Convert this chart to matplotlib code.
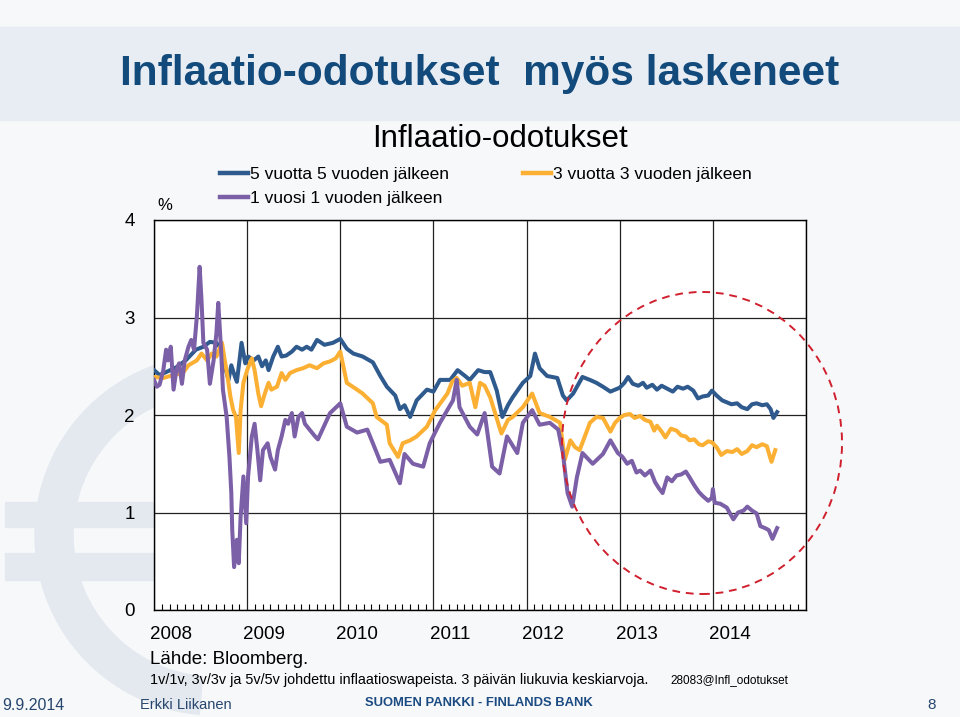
import numpy as np
import matplotlib
matplotlib.use('Agg')
import matplotlib.pyplot as plt
from matplotlib.patches import Ellipse, Wedge, Rectangle
from matplotlib.lines import Line2D
from matplotlib.transforms import IdentityTransform, blended_transform_factory
from matplotlib.ticker import MultipleLocator

plt.rcParams['font.family'] = ['Liberation Sans', 'DejaVu Sans']

# 5v/5v
t_5v5v = [2008.00, 2008.06, 2008.13, 2008.24, 2008.34, 2008.45, 2008.53, 2008.60, 2008.67, 2008.73,
          2008.76, 2008.80, 2008.83, 2008.87, 2008.89, 2008.94, 2008.98, 2009.01, 2009.07, 2009.12,
          2009.16, 2009.20, 2009.23, 2009.28, 2009.33, 2009.37, 2009.42, 2009.48, 2009.53, 2009.59,
          2009.64, 2009.69, 2009.75, 2009.83, 2009.92, 2010.00, 2010.07, 2010.14, 2010.24, 2010.35,
          2010.43, 2010.50, 2010.59, 2010.64, 2010.69, 2010.75, 2010.82, 2010.93, 2011.00, 2011.07,
          2011.18, 2011.26, 2011.34, 2011.39, 2011.48, 2011.55, 2011.61, 2011.68, 2011.74, 2011.80,
          2011.85, 2011.96, 2012.04, 2012.09, 2012.14, 2012.22, 2012.33, 2012.39, 2012.43, 2012.50,
          2012.60, 2012.68, 2012.75, 2012.82, 2012.90, 2012.95, 2013.00, 2013.05, 2013.09, 2013.14,
          2013.20, 2013.25, 2013.29, 2013.35, 2013.40, 2013.45, 2013.51, 2013.57, 2013.62, 2013.68,
          2013.73, 2013.79, 2013.84, 2013.89, 2013.95, 2013.99, 2014.04, 2014.10, 2014.15, 2014.20,
          2014.26, 2014.31, 2014.37, 2014.42, 2014.47, 2014.53, 2014.58, 2014.62, 2014.65, 2014.69]
v_5v5v = [2.46, 2.41, 2.44, 2.49, 2.56, 2.67, 2.70, 2.75, 2.74, 2.67,
          2.50, 2.36, 2.51, 2.39, 2.34, 2.74, 2.53, 2.60, 2.56, 2.60,
          2.50, 2.56, 2.46, 2.60, 2.70, 2.60, 2.61, 2.65, 2.70, 2.67,
          2.70, 2.67, 2.77, 2.72, 2.74, 2.78, 2.68, 2.63, 2.60, 2.54,
          2.40, 2.29, 2.20, 2.06, 2.10, 1.98, 2.15, 2.26, 2.24, 2.36,
          2.36, 2.46, 2.40, 2.36, 2.46, 2.44, 2.44, 2.25, 1.98, 2.10,
          2.18, 2.33, 2.40, 2.63, 2.48, 2.40, 2.38, 2.20, 2.15, 2.22,
          2.39, 2.36, 2.33, 2.29, 2.24, 2.26, 2.28, 2.33, 2.39, 2.32,
          2.30, 2.33, 2.28, 2.31, 2.26, 2.30, 2.27, 2.24, 2.29, 2.27,
          2.29, 2.25, 2.17, 2.19, 2.20, 2.25, 2.20, 2.15, 2.13, 2.11,
          2.12, 2.08, 2.06, 2.11, 2.12, 2.10, 2.11, 2.06, 1.97, 2.03]

# 3v/3v
t_3v3v = [2008.00, 2008.10, 2008.21, 2008.31, 2008.37, 2008.46, 2008.51, 2008.57, 2008.62, 2008.67,
          2008.73, 2008.76, 2008.79, 2008.82, 2008.85, 2008.88, 2008.91, 2008.93, 2008.96, 2009.00,
          2009.05, 2009.08, 2009.12, 2009.15, 2009.19, 2009.23, 2009.26, 2009.32, 2009.37, 2009.41,
          2009.46, 2009.53, 2009.60, 2009.67, 2009.75, 2009.82, 2009.89, 2009.95, 2010.00, 2010.07,
          2010.18, 2010.24, 2010.35, 2010.39, 2010.50, 2010.53, 2010.62, 2010.67, 2010.75, 2010.82,
          2010.93, 2011.02, 2011.15, 2011.20, 2011.25, 2011.31, 2011.39, 2011.45, 2011.50, 2011.55,
          2011.61, 2011.73, 2011.80, 2011.85, 2011.96, 2012.06, 2012.14, 2012.25, 2012.36, 2012.41,
          2012.47, 2012.52, 2012.57, 2012.68, 2012.75, 2012.82, 2012.90, 2012.95, 2013.00, 2013.05,
          2013.11, 2013.16, 2013.22, 2013.27, 2013.33, 2013.37, 2013.40, 2013.45, 2013.49, 2013.55,
          2013.61, 2013.66, 2013.71, 2013.75, 2013.80, 2013.85, 2013.89, 2013.95, 2013.99, 2014.04,
          2014.09, 2014.15, 2014.21, 2014.26, 2014.31, 2014.37, 2014.42, 2014.47, 2014.53, 2014.58,
          2014.61, 2014.63, 2014.67]
v_3v3v = [2.39, 2.38, 2.41, 2.43, 2.51, 2.56, 2.63, 2.56, 2.63, 2.60,
          2.74, 2.56, 2.39, 2.19, 2.05, 1.98, 1.61, 2.05, 2.33, 2.46,
          2.58, 2.46, 2.22, 2.09, 2.22, 2.33, 2.26, 2.29, 2.43, 2.36,
          2.43, 2.46, 2.48, 2.51, 2.48, 2.53, 2.55, 2.58, 2.65, 2.33,
          2.26, 2.22, 2.12, 1.98, 1.90, 1.71, 1.57, 1.71, 1.74, 1.78,
          1.88, 2.05, 2.22, 2.34, 2.38, 2.30, 2.33, 2.08, 2.33, 2.30,
          2.18, 1.81, 1.95, 1.98, 2.08, 2.22, 2.02, 1.98, 1.92, 1.54,
          1.74, 1.67, 1.64, 1.92, 1.98, 1.97, 1.83, 1.92, 1.97, 2.00,
          2.01, 1.97, 1.99, 1.95, 1.93, 1.84, 1.89, 1.83, 1.77, 1.86,
          1.84, 1.79, 1.78, 1.74, 1.75, 1.70, 1.69, 1.73, 1.72, 1.67,
          1.59, 1.63, 1.62, 1.65, 1.60, 1.63, 1.69, 1.67, 1.70, 1.68,
          1.58, 1.52, 1.64]

# 1v/1v
t_1v1v = [2008.00, 2008.03, 2008.06, 2008.10, 2008.13, 2008.15, 2008.18, 2008.21, 2008.24, 2008.27,
          2008.30, 2008.33, 2008.37, 2008.40, 2008.43, 2008.46, 2008.49, 2008.51, 2008.53, 2008.57,
          2008.60, 2008.64, 2008.67, 2008.69, 2008.72, 2008.74, 2008.78, 2008.81, 2008.83, 2008.84,
          2008.86, 2008.89, 2008.91, 2008.93, 2008.96, 2008.99, 2009.01, 2009.05, 2009.08, 2009.11,
          2009.14, 2009.17, 2009.22, 2009.25, 2009.30, 2009.33, 2009.37, 2009.41, 2009.44, 2009.48,
          2009.51, 2009.55, 2009.59, 2009.62, 2009.67, 2009.73, 2009.76, 2009.89, 2010.00, 2010.07,
          2010.18, 2010.29, 2010.35, 2010.43, 2010.53, 2010.64, 2010.69, 2010.78, 2010.89, 2010.96,
          2011.07, 2011.21, 2011.25, 2011.28, 2011.39, 2011.47, 2011.55, 2011.63, 2011.71, 2011.79,
          2011.90, 2011.96, 2012.06, 2012.14, 2012.25, 2012.34, 2012.39, 2012.44, 2012.49, 2012.54,
          2012.60, 2012.71, 2012.82, 2012.90, 2012.98, 2013.03, 2013.08, 2013.13, 2013.18, 2013.22,
          2013.27, 2013.33, 2013.38, 2013.42, 2013.46, 2013.51, 2013.56, 2013.61, 2013.66, 2013.71,
          2013.75, 2013.80, 2013.85, 2013.89, 2013.95, 2013.99, 2014.00, 2014.02, 2014.08, 2014.15,
          2014.19, 2014.22, 2014.27, 2014.33, 2014.37, 2014.42, 2014.47, 2014.51, 2014.56, 2014.60,
          2014.64, 2014.69]
v_1v1v = [2.36, 2.29, 2.31, 2.46, 2.67, 2.56, 2.70, 2.26, 2.46, 2.53,
          2.32, 2.56, 2.70, 2.77, 2.67, 3.01, 3.52, 3.18, 2.74, 2.67,
          2.32, 2.56, 2.84, 3.15, 2.67, 2.26, 1.98, 1.57, 1.20, 0.82,
          0.44, 0.72, 0.48, 0.96, 1.37, 0.89, 1.37, 1.78, 1.91, 1.64,
          1.33, 1.64, 1.71, 1.57, 1.44, 1.64, 1.78, 1.95, 1.91, 2.02,
          1.78, 1.98, 2.02, 1.91, 1.85, 1.78, 1.75, 2.02, 2.12, 1.88,
          1.82, 1.85, 1.71, 1.52, 1.54, 1.30, 1.60, 1.50, 1.47, 1.71,
          1.92, 2.15, 2.36, 2.08, 1.88, 1.80, 2.02, 1.47, 1.40, 1.78,
          1.61, 1.92, 2.05, 1.90, 1.92, 1.85, 1.61, 1.20, 1.06, 1.36,
          1.61, 1.50, 1.60, 1.74, 1.61, 1.57, 1.50, 1.53, 1.41, 1.43,
          1.38, 1.43, 1.31, 1.25, 1.20, 1.36, 1.32, 1.38, 1.39, 1.42,
          1.36, 1.28, 1.21, 1.17, 1.12, 1.15, 1.24, 1.10, 1.09, 1.05,
          0.98, 0.93, 1.00, 1.02, 1.06, 1.02, 0.99, 0.86, 0.84, 0.82,
          0.73, 0.84]

years = [2008, 2009, 2010, 2011, 2012, 2013, 2014]
labels = ['5 vuotta 5 vuoden jälkeen', '1 vuosi 1 vuoden jälkeen', '3 vuotta 3 vuoden jälkeen']
c_blue = '#2f5a8e'
c_orange = '#fbb034'
c_purple = '#7b5fa7'

fig = plt.figure(figsize=(9.6, 7.17), dpi=100)
fig.patch.set_facecolor('#f7f8fa')
ident = IdentityTransform()

# background band and euro sign (pixel coords from bottom-left)
bg = '#e4e9f0'
fig.patches.append(Rectangle((0, 717 - 120), 960, 93, transform=ident, color='#e8edf3', zorder=-2))
fig.patches.append(Wedge((215, 717 - 535), 180, 95, 265, width=38, transform=ident, color=bg, zorder=-2))
fig.patches.append(Rectangle((5, 717 - 527), 150, 25, transform=ident, color=bg, zorder=-2))
fig.patches.append(Rectangle((5, 717 - 580), 150, 27, transform=ident, color=bg, zorder=-2))

ax = fig.add_axes([154 / 960, 1 - 610 / 717, 652 / 960, 390 / 717])
ax.set_zorder(1)
ax.set_facecolor('white')
lw = 2.9
ax.plot(t_5v5v, v_5v5v, color=c_blue, lw=lw, solid_joinstyle='round', zorder=3)
ax.plot(t_3v3v, v_3v3v, color=c_orange, lw=lw, solid_joinstyle='round', zorder=4)
ax.plot(t_1v1v, v_1v1v, color=c_purple, lw=lw, solid_joinstyle='round', zorder=5)

ax.set_xlim(2008, 2015)
ax.set_ylim(0, 4)
ax.set_xticks(range(2008, 2016))
ax.xaxis.set_minor_locator(MultipleLocator(1 / 12))
ax.set_xticklabels([])
ax.tick_params(axis='x', which='major', length=0)
ax.tick_params(axis='x', which='minor', direction='in', length=4, width=0.8, color='black')
ax.set_yticks([0, 1, 2, 3, 4])
ax.tick_params(axis='y', length=0, pad=14, labelsize=13.5)
ax.grid(True, which='major', color='#222222', lw=0.9)
for s in ax.spines.values():
    s.set_color('black')
    s.set_linewidth(1.0)

tr = blended_transform_factory(ax.transData, ax.transAxes)
for y in years:
    ax.text(y + 0.18, -0.062, str(y), transform=tr, ha='center', va='center', fontsize=13.5)

# titles
fig.text(480 / 960, 1 - 74 / 717, 'Inflaatio-odotukset  myös laskeneet', fontweight='bold',
         fontsize=30.5, color='#124a7c', ha='center', va='center')
fig.text(500 / 960, 1 - 139 / 717, 'Inflaatio-odotukset', fontsize=22.5, ha='center', va='center')
fig.text(165 / 960, 1 - 205 / 717, '%', fontsize=12, ha='center', va='center')

handles = [Line2D([0], [0], color=c_blue, lw=3.2),
           Line2D([0], [0], color=c_purple, lw=3.2),
           Line2D([0], [0], color=c_orange, lw=3.2)]
fig.legend(handles, labels, ncol=2, loc='upper left', bbox_to_anchor=(220 / 960, 1 - 167 / 717),
           frameon=False, fontsize=12.5, handlelength=1.6, handletextpad=0.1,
           columnspacing=4.3, labelspacing=0.5, borderpad=0, borderaxespad=0)

# red dashed circle
fig.patches.append(Ellipse((702 / 960, 1 - 443 / 717), 280 / 960, 302 / 717, transform=fig.transFigure,
                           fill=False, ec='#d0202e', lw=1.4, ls=(0, (4, 3)), zorder=10))

# footer
fig.text(150 / 960, 1 - 659 / 717, 'Lähde: Bloomberg.', fontsize=13.5, va='center')
fig.text(150 / 960, 1 - 680 / 717,
         '1v/1v, 3v/3v ja 5v/5v johdettu inflaatioswapeista. 3 päivän liukuvia keskiarvoja.',
         fontsize=10.4, va='center')
fig.text(670 / 960, 1 - 680 / 717, '28083@Infl_odotukset', fontsize=8.5, va='center')
fig.text(2 / 960, 1 - 705 / 717, '9.9.2014', fontsize=11.5, color='#26466d', va='center')
fig.text(140 / 960, 1 - 705 / 717, 'Erkki Liikanen', fontsize=10.5, color='#26466d', va='center')
fig.text(479 / 960, 1 - 703 / 717, 'SUOMEN PANKKI - FINLANDS BANK', fontsize=9.4, fontweight='bold',
         color='#1b4b82', ha='center', va='center')
fig.text(932 / 960, 1 - 705 / 717, '8', fontsize=11, color='#26466d', ha='center', va='center')

fig.savefig('out.png', dpi=100, facecolor=fig.get_facecolor())
